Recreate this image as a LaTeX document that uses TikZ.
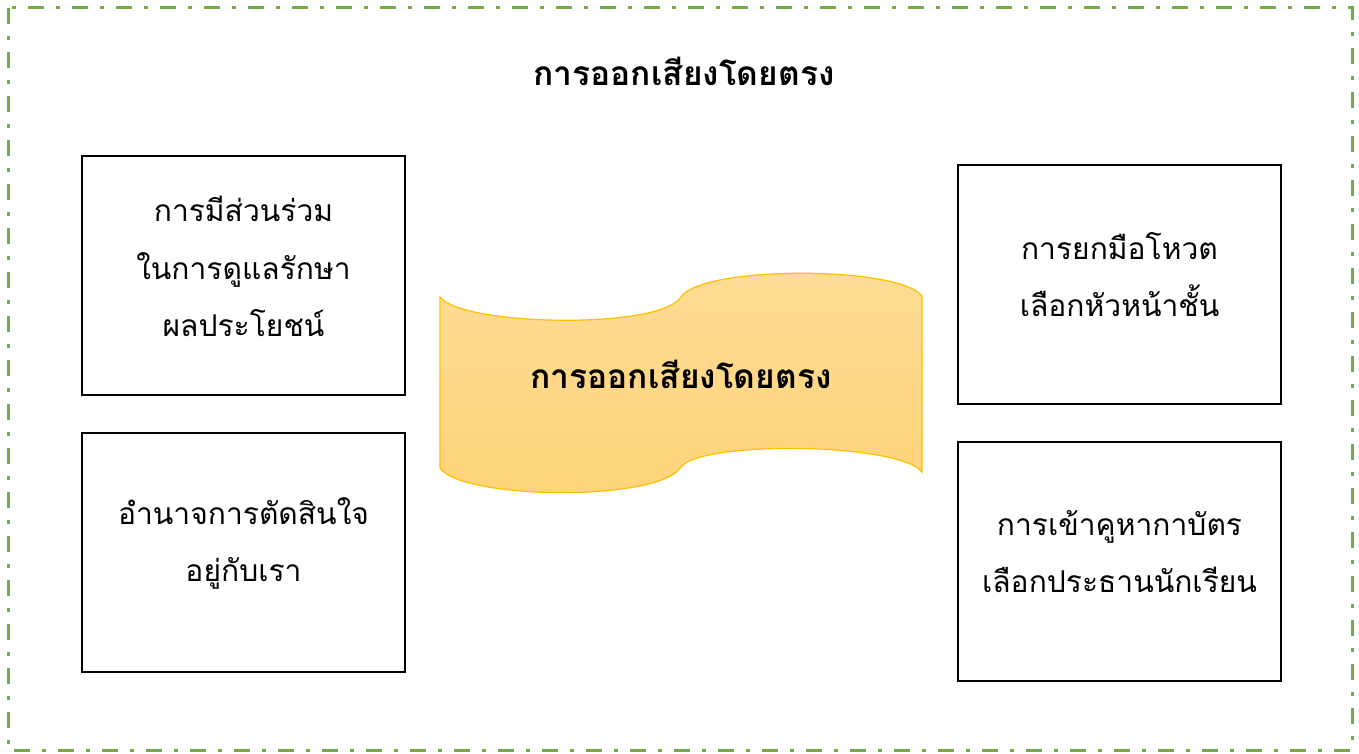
\documentclass[tikz,border=0pt]{standalone}
\usepackage{fontspec}
\newfontfamily\thaifont[Script=Thai]{Loma}
\usetikzlibrary{positioning}
\definecolor{frm}{HTML}{70AD47}
\definecolor{wavetop}{HTML}{FDDC96}
\definecolor{wavebot}{HTML}{FFD478}
\definecolor{waveline}{HTML}{FFC000}

\begin{document}
\begin{tikzpicture}[x=1pt,y=-1pt,node distance=36pt,
  card/.style={draw,line width=2pt,minimum width=323pt,minimum height=239pt},
  txt/.style={align=center,font=\thaifont\fontsize{30}{57.5}\selectfont},
  head/.style={font=\thaifont\bfseries\fontsize{33.5}{40}\selectfont}]
\useasboundingbox (0,0) rectangle (1359,754);
% outer frame
\draw[frm,line width=3pt,dash pattern=on 16pt off 12pt on 4pt off 12pt]
  (8,8) rectangle (1352,750);
\node[head] (title) at (684,71) {การออกเสียงโดยตรง};
% left column
\node[card] (share) at (243.5,275.5) {};
\node[card,below=36pt of share] (power) {};
% right column
\node[card] (hand) at (1119.5,284.5) {};
\node[card,below=36pt of hand] (ballot) {};
% texts, raised a little inside the cards
\node[txt] (share-t) at ([yshift=9pt]share.center) {การมีส่วนร่วม\\ในการดูแลรักษา\\ผลประโยชน์};
\node[txt] (power-t) at ([yshift=9pt]power.center) {อำนาจการตัดสินใจ\\อยู่กับเรา};
\node[txt] (hand-t) at ([yshift=10pt]hand.center) {การยกมือโหวต\\เลือกหัวหน้าชั้น};
\node[txt] (ballot-t) at ([yshift=10pt]ballot.center) {การเข้าคูหากาบัตร\\เลือกประธานนักเรียน};
% centre banner
\shade[top color=wavetop,bottom color=wavebot,draw=waveline,line width=1.2pt]
  (440,297) .. controls (462,326) and (660,330) .. (681,297)
  .. controls (702,265) and (900,266) .. (922,296)
  -- (922,472) .. controls (900,443) and (702,440) .. (681,467)
  .. controls (660,502) and (462,500) .. (440,468) -- cycle;
\node[head] (wave) at (681,374) {การออกเสียงโดยตรง};
\end{tikzpicture}
\end{document}
